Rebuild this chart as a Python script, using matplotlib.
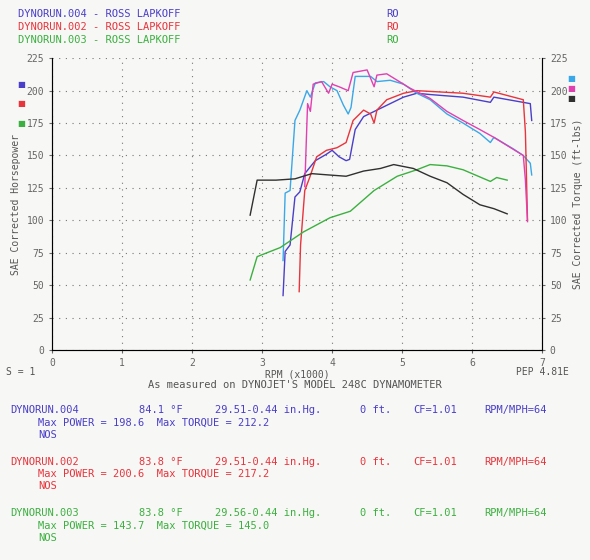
import matplotlib
matplotlib.use("Agg")
import matplotlib.pyplot as plt

hp004_rpm = [3.30,3.33,3.40,3.47,3.54,3.61,3.76,3.92,4.00,4.10,4.20,4.25,4.33,4.45,4.64,4.83,5.02,5.21,5.40,5.87,6.26,6.31,6.83,6.85]
hp004_val = [42,76,81,118,122,136,146,151,154,149,146,147,170,180,185,190,195,198,197,195,191,195,190,177]
tq004_rpm = [3.30,3.33,3.40,3.47,3.54,3.64,3.69,3.76,3.88,3.97,4.07,4.16,4.23,4.27,4.33,4.45,4.55,4.64,4.83,5.02,5.21,5.40,5.64,5.87,6.11,6.26,6.31,6.59,6.73,6.83,6.85]
tq004_val = [69,121,123,177,185,200,195,206,207,203,200,189,182,187,211,211,211,207,208,205,198,193,182,175,167,160,164,155,150,144,135]
hp002_rpm = [3.53,3.55,3.61,3.68,3.78,3.92,4.07,4.20,4.30,4.45,4.55,4.60,4.64,4.78,5.02,5.21,5.87,6.26,6.31,6.73,6.76,6.79]
hp002_val = [45,81,123,133,149,154,156,160,177,185,182,175,185,193,198,200,198,195,199,193,168,100]
tq002_rpm = [3.61,3.65,3.69,3.73,3.85,3.95,4.00,4.10,4.23,4.30,4.50,4.60,4.64,4.78,4.93,5.11,5.40,5.64,5.87,6.11,6.31,6.73,6.76,6.79]
tq002_val = [126,190,184,205,207,198,205,203,200,214,216,203,212,213,208,202,194,184,177,170,164,150,131,99]
hp003_rpm = [2.83,2.93,3.26,3.59,3.97,4.26,4.60,4.93,5.21,5.40,5.64,5.87,6.26,6.35,6.50]
hp003_val = [54,72,79,91,102,107,123,134,139,143,142,139,130,133,131]
tq003_rpm = [2.83,2.93,3.20,3.47,3.71,3.95,4.20,4.45,4.69,4.88,5.16,5.40,5.64,5.87,6.11,6.31,6.50]
tq003_val = [104,131,131,132,136,135,134,138,140,143,140,134,129,120,112,109,105]

x_ticks = [0,1,2,3,4,5,6,7]
y_ticks = [0,25,50,75,100,125,150,175,200,225]

BLUE = "#4a3fc8"; LBLUE = "#3aa8e8"; RED = "#e8343c"; MAG = "#e040b0"; GREEN = "#3cb040"; BLACK = "#303030"
mono = "DejaVu Sans Mono"

fig = plt.figure(figsize=(5.9, 5.6), dpi=100)
fig.patch.set_facecolor("#f7f7f5")
ax = fig.add_axes([0.088, 0.375, 0.831, 0.521])
ax.set_facecolor("#f7f7f5")
lw = 1.0
ax.plot(hp004_rpm, hp004_val, color=BLUE, lw=lw)
ax.plot(tq004_rpm, tq004_val, color=LBLUE, lw=lw)
ax.plot(hp002_rpm, hp002_val, color=RED, lw=lw)
ax.plot(tq002_rpm, tq002_val, color=MAG, lw=lw)
ax.plot(hp003_rpm, hp003_val, color=GREEN, lw=lw)
ax.plot(tq003_rpm, tq003_val, color=BLACK, lw=lw)
ax.set_xlim(0, 7); ax.set_ylim(0, 225)
ax.set_xticks(x_ticks); ax.set_yticks(y_ticks)
ax.set_xticklabels([str(t) for t in x_ticks], fontsize=7, family=mono, color="#555")
ax.set_yticklabels([str(t) for t in y_ticks], fontsize=7, family=mono, color="#555")
ax.grid(True, color="#777", linestyle=(0, (1, 5)), lw=0.8)
ax.spines["top"].set_visible(False)
for s in ["left", "right", "bottom"]:
    ax.spines[s].set_color("#666"); ax.spines[s].set_linewidth(0.8)
ax.tick_params(length=2, colors="#666")
ax2 = ax.twinx()
ax2.set_ylim(0, 225); ax2.set_yticks(y_ticks)
ax2.set_yticklabels([str(t) for t in y_ticks], fontsize=7, family=mono, color="#555")
ax2.spines["top"].set_visible(False)
ax2.tick_params(length=2, colors="#666")
ax.set_ylabel("SAE Corrected Horsepower", fontsize=7, family=mono, color="#555")
ax2.set_ylabel("SAE Corrected Torque (ft-lbs)", fontsize=7, family=mono, color="#555")
ax.set_xlabel("RPM (x1000)", fontsize=7, family=mono, color="#555", labelpad=1)

# small colour markers
for c, yv in [(BLUE, 0.845), (RED, 0.81), (GREEN, 0.775)]:
    fig.text(0.030, yv, "\u25a0", color=c, fontsize=6)
for c, yv in [(LBLUE, 0.855), (MAG, 0.838), (BLACK, 0.820)]:
    fig.text(0.962, yv, "\u25a0", color=c, fontsize=6)

fig.text(0.030, 0.970, "DYNORUN.004 - ROSS LAPKOFF", color=BLUE, fontsize=7.5, family=mono)
fig.text(0.030, 0.947, "DYNORUN.002 - ROSS LAPKOFF", color=RED, fontsize=7.5, family=mono)
fig.text(0.030, 0.924, "DYNORUN.003 - ROSS LAPKOFF", color=GREEN, fontsize=7.5, family=mono)
for c, yv in [(BLUE, 0.970), (RED, 0.947), (GREEN, 0.924)]:
    fig.text(0.655, yv, "RO", color=c, fontsize=7.5, family=mono)

fig.text(0.010, 0.330, "S = 1", color="#555", fontsize=7, family=mono)
fig.text(0.875, 0.330, "PEP 4.81E", color="#555", fontsize=7, family=mono)
fig.text(0.5, 0.307, "As measured on DYNOJET'S MODEL 248C DYNAMOMETER", color="#555", fontsize=7.5, family=mono, ha="center")

blocks = [
    (BLUE, "DYNORUN.004", "84.1 \u00b0F", "29.51-0.44 in.Hg.", "Max POWER = 198.6  Max TORQUE = 212.2", 0.262),
    (RED, "DYNORUN.002", "83.8 \u00b0F", "29.51-0.44 in.Hg.", "Max POWER = 200.6  Max TORQUE = 217.2", 0.170),
    (GREEN, "DYNORUN.003", "83.8 \u00b0F", "29.56-0.44 in.Hg.", "Max POWER = 143.7  Max TORQUE = 145.0", 0.078),
]
for c, name, temp, baro, mx, yv in blocks:
    fig.text(0.018, yv, name, color=c, fontsize=7.5, family=mono)
    fig.text(0.235, yv, temp, color=c, fontsize=7.5, family=mono)
    fig.text(0.365, yv, baro, color=c, fontsize=7.5, family=mono)
    fig.text(0.610, yv, "0 ft.", color=c, fontsize=7.5, family=mono)
    fig.text(0.700, yv, "CF=1.01", color=c, fontsize=7.5, family=mono)
    fig.text(0.820, yv, "RPM/MPH=64", color=c, fontsize=7.5, family=mono)
    fig.text(0.065, yv - 0.022, mx, color=c, fontsize=7.5, family=mono)
    fig.text(0.065, yv - 0.044, "NOS", color=c, fontsize=7.5, family=mono)

fig.savefig("out.png", dpi=100, facecolor=fig.get_facecolor())
